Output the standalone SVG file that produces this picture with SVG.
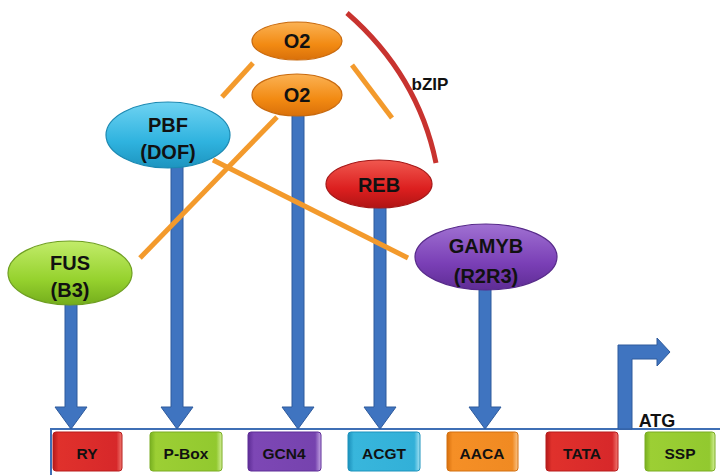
<svg xmlns="http://www.w3.org/2000/svg" width="720" height="475" viewBox="0 0 720 475">
<defs>
<style>
text{font-family:"Liberation Sans",Arial,sans-serif;font-weight:bold;fill:#111111;text-anchor:middle}
.el{font-size:20px}
.bx{font-size:15.5px}
.shaft{fill:#3f74c0;stroke:#2e5a9c;stroke-width:1}
.tie{stroke:#f39a2c;stroke-width:5;fill:none}
.ell{stroke-width:1.2}
.box{stroke-width:1}
</style>
<linearGradient id="gO" x1="0" y1="0" x2="0" y2="1"><stop offset="0" stop-color="#fbb254"/><stop offset="0.6" stop-color="#f28a12"/><stop offset="1" stop-color="#d9700a"/></linearGradient>
<linearGradient id="gB" x1="0" y1="0" x2="0" y2="1"><stop offset="0" stop-color="#6fd3f2"/><stop offset="0.6" stop-color="#2fb3df"/><stop offset="1" stop-color="#1d94bf"/></linearGradient>
<linearGradient id="gG" x1="0" y1="0" x2="0" y2="1"><stop offset="0" stop-color="#c2ec6a"/><stop offset="0.6" stop-color="#96d22e"/><stop offset="1" stop-color="#74ad1c"/></linearGradient>
<linearGradient id="gR" x1="0" y1="0" x2="0" y2="1"><stop offset="0" stop-color="#f0584f"/><stop offset="0.6" stop-color="#dc1f1f"/><stop offset="1" stop-color="#b01414"/></linearGradient>
<linearGradient id="gP" x1="0" y1="0" x2="0" y2="1"><stop offset="0" stop-color="#a071d2"/><stop offset="0.6" stop-color="#7a3fb6"/><stop offset="1" stop-color="#5e2c94"/></linearGradient>
<linearGradient id="bR" x1="0" y1="0" x2="1" y2="0"><stop offset="0" stop-color="#b51a1a"/><stop offset="0.08" stop-color="#e0312c"/><stop offset="0.92" stop-color="#d7282a"/><stop offset="1" stop-color="#f07a72"/></linearGradient>
<linearGradient id="bG" x1="0" y1="0" x2="1" y2="0"><stop offset="0" stop-color="#78b020"/><stop offset="0.08" stop-color="#9ccf34"/><stop offset="0.92" stop-color="#92c92f"/><stop offset="1" stop-color="#d4ef9a"/></linearGradient>
<linearGradient id="bP" x1="0" y1="0" x2="1" y2="0"><stop offset="0" stop-color="#5d2c95"/><stop offset="0.08" stop-color="#7d47b5"/><stop offset="0.92" stop-color="#7643ae"/><stop offset="1" stop-color="#c7a9e6"/></linearGradient>
<linearGradient id="bC" x1="0" y1="0" x2="1" y2="0"><stop offset="0" stop-color="#1b8fba"/><stop offset="0.08" stop-color="#38b6dc"/><stop offset="0.92" stop-color="#32b0d8"/><stop offset="1" stop-color="#a7e3f4"/></linearGradient>
<linearGradient id="bO" x1="0" y1="0" x2="1" y2="0"><stop offset="0" stop-color="#d7700d"/><stop offset="0.08" stop-color="#f58f26"/><stop offset="0.92" stop-color="#f08a22"/><stop offset="1" stop-color="#f9c58a"/></linearGradient>
</defs>
<rect width="720" height="475" fill="#ffffff"/>

<g id="connectors">
<path d="M51,475 V429 H720" fill="none" stroke="#3f6fb5" stroke-width="2"/>
<path class="shaft" d="M65,300 H77 V407 H87 L71,429 L55,407 H65 Z"/>
<path class="shaft" d="M171,165 H183 V407 H193 L177,429 L161,407 H171 Z"/>
<path class="shaft" d="M292,112 H304 V407 H314 L298,429 L282,407 H292 Z"/>
<path class="shaft" d="M374,205 H386 V407 H396 L380,429 L364,407 H374 Z"/>
<path class="shaft" d="M479,286 H491 V407 H501 L485,429 L469,407 H479 Z"/>
<path class="shaft" d="M618,429 V345 H657 V338 L670,352 L657,366 V359 H632 V429 Z"/>
<line class="tie" x1="222" y1="97" x2="253" y2="63"/>
<line class="tie" x1="352" y1="65" x2="392" y2="118"/>
<line class="tie" x1="277" y1="117" x2="140" y2="258"/>
<line class="tie" x1="213" y1="160" x2="408" y2="258"/>
<path d="M347,13 Q418,75 436,163" fill="none" stroke="#c8332f" stroke-width="5"/>
</g>

<g id="O2-top"><ellipse class="ell" cx="297" cy="41" rx="45" ry="19" fill="url(#gO)" stroke="#c96a0e"/><text class="el" x="297" y="48">O2</text></g>
<g id="O2"><ellipse class="ell" cx="297" cy="95" rx="45" ry="21" fill="url(#gO)" stroke="#c96a0e"/><text class="el" x="297" y="102">O2</text></g>
<g id="PBF"><ellipse class="ell" cx="168" cy="135" rx="62" ry="33" fill="url(#gB)" stroke="#1c89b2"/><text class="el" x="168" y="132">PBF</text><text class="el" x="168" y="159">(DOF)</text></g>
<g id="FUS"><ellipse class="ell" cx="70" cy="273" rx="62" ry="32" fill="url(#gG)" stroke="#6f9f22"/><text class="el" x="70" y="270">FUS</text><text class="el" x="70" y="297">(B3)</text></g>
<g id="REB"><ellipse class="ell" cx="379" cy="184" rx="53" ry="24" fill="url(#gR)" stroke="#a51818"/><text class="el" x="379" y="192">REB</text></g>
<g id="GAMYB"><ellipse class="ell" cx="486" cy="257" rx="71" ry="33" fill="url(#gP)" stroke="#572a8a"/><text class="el" x="486" y="253">GAMYB</text><text class="el" x="486" y="283">(R2R3)</text></g>
<g id="bZIP"><text x="430" y="90" style="font-size:17px">bZIP</text></g>
<g id="ATG"><text x="657" y="427" style="font-size:18px">ATG</text></g>

<g id="RY"><rect class="box" x="53" y="432" width="69" height="39" rx="3" fill="url(#bR)" stroke="#b71c1c"/><text class="bx" x="87" y="459">RY</text></g>
<g id="P-Box"><rect class="box" x="150" y="432" width="72" height="39" rx="3" fill="url(#bG)" stroke="#7aac22"/><text class="bx" x="186" y="459">P-Box</text></g>
<g id="GCN4"><rect class="box" x="248" y="432" width="73" height="39" rx="3" fill="url(#bP)" stroke="#5f2e98"/><text class="bx" x="284" y="459">GCN4</text></g>
<g id="ACGT"><rect class="box" x="348" y="432" width="72" height="39" rx="3" fill="url(#bC)" stroke="#1d93bd"/><text class="bx" x="384" y="459">ACGT</text></g>
<g id="AACA"><rect class="box" x="447" y="432" width="71" height="39" rx="3" fill="url(#bO)" stroke="#d37010"/><text class="bx" x="482" y="459">AACA</text></g>
<g id="TATA"><rect class="box" x="546" y="432" width="72" height="39" rx="3" fill="url(#bR)" stroke="#b71c1c"/><text class="bx" x="582" y="459">TATA</text></g>
<g id="SSP"><rect class="box" x="645" y="432" width="70" height="39" rx="3" fill="url(#bG)" stroke="#7aac22"/><text class="bx" x="680" y="459">SSP</text></g>
</svg>
